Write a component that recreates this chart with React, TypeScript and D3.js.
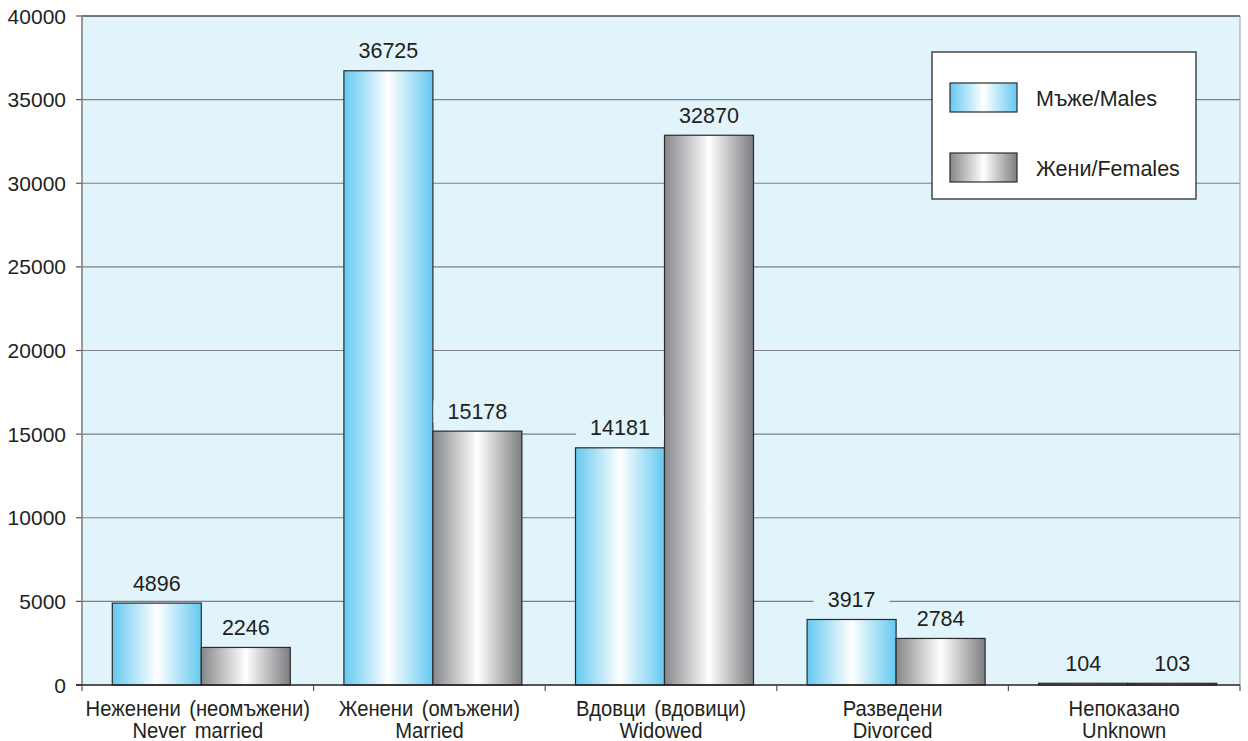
import React from "react";
import * as d3 from "d3";

const categoriesBg = ["Неженени (неомъжени)", "Женени (омъжени)", "Вдовци (вдовици)", "Разведени", "Непоказано"];
const categoriesEn = ["Never married", "Married", "Widowed", "Divorced", "Unknown"];
const males = [4896, 36725, 14181, 3917, 104];
const females = [2246, 15178, 32870, 2784, 103];
const yTicks = [0, 5000, 10000, 15000, 20000, 25000, 30000, 35000, 40000];
const seriesNames = ["Мъже/Males", "Жени/Females"];

const W = 1248;
const H = 741;
const left = 82;
const right = 1240;
const top = 16;
const bottom = 685;
const FONT = "'Liberation Sans', Arial, sans-serif";
const BG = "#e1f3fb";

export default function App() {
  const x = d3.scaleBand<number>().domain(d3.range(categoriesBg.length)).range([left, right]).paddingInner(0).paddingOuter(0);
  const y = d3.scaleLinear().domain([0, 40000]).range([bottom, top]);
  const bw = 89;
  const shift = 3.5;
  const series = [
    { vals: males, grad: "url(#gMale)" },
    { vals: females, grad: "url(#gFemale)" },
  ];
  const bounds = d3.range(categoriesBg.length + 1).map((i) => left + i * x.bandwidth());

  return (
    <svg width={W} height={H} style={{ position: "absolute", left: 0, top: 0, background: "#fff" }} fontFamily={FONT}>
      <defs>
        <linearGradient id="gMale" x1="0" x2="1" y1="0" y2="0">
          <stop offset="0%" stopColor="#64c9f0" />
          <stop offset="50%" stopColor="#ffffff" />
          <stop offset="100%" stopColor="#64c9f0" />
        </linearGradient>
        <linearGradient id="gFemale" x1="0" x2="1" y1="0" y2="0">
          <stop offset="0%" stopColor="#86878a" />
          <stop offset="50%" stopColor="#ffffff" />
          <stop offset="100%" stopColor="#7c7d80" />
        </linearGradient>
      </defs>
      <rect x={left} y={top} width={right - left} height={bottom - top} fill={BG} />
      {yTicks.map((t) => (
        <g key={t}>
          {t > 0 && <line x1={left} x2={right} y1={y(t)} y2={y(t)} stroke="#7d7f82" strokeWidth={1.2} />}
          <line x1={left - 6} x2={left} y1={y(t)} y2={y(t)} stroke="#555" strokeWidth={1.2} />
          <text x={66} y={y(t)} dy="0.36em" textAnchor="end" fontSize={21} fill="#231f20">
            {t}
          </text>
        </g>
      ))}
      <line x1={right} x2={right} y1={top} y2={bottom} stroke="#9aa0a4" strokeWidth={1} />
      <line x1={left} x2={right} y1={top} y2={top} stroke="#333" strokeWidth={1.2} />
      {series.map((s, si) =>
        s.vals.map((v, i) => {
          const cx = x(i)! + x.bandwidth() / 2 + shift;
          const bx = si === 0 ? cx - bw : cx;
          return (
            <rect key={`${si}-${i}`} x={bx} y={y(v)} width={bw} height={bottom - y(v)} fill={s.grad} stroke="#2b2b2b" strokeWidth={1.2} />
          );
        })
      )}
      {series.map((s, si) =>
        s.vals.map((v, i) => {
          const cx = x(i)! + x.bandwidth() / 2 + shift;
          const lx = si === 0 ? cx - bw / 2 : cx + bw / 2;
          const base = Math.min(y(v) - 12.5, 680);
          const label = String(v);
          const tw = label.length * 12 + 28;
          return (
            <g key={`l${si}-${i}`}>
              <rect x={lx - tw / 2} y={base - 18} width={tw} height={22} fill={BG} />
              <text x={lx} y={base} textAnchor="middle" fontSize={21.5} fill="#231f20">
                {label}
              </text>
            </g>
          );
        })
      )}
      <line x1={left} x2={left} y1={top} y2={bottom + 1} stroke="#7d7f82" strokeWidth={1.6} />
      <line x1={left - 6} x2={right} y1={bottom} y2={bottom} stroke="#231f20" strokeWidth={1.4} />
      {bounds.map((b, i) => (
        <line key={i} x1={b} x2={b} y1={bottom} y2={bottom + 6} stroke="#555" strokeWidth={1.2} />
      ))}
      {categoriesBg.map((c, i) => {
        const cx = x(i)! + x.bandwidth() / 2;
        return (
          <g key={c} transform={`translate(${cx},0) scale(0.94,1)`}>
            <text x={0} y={716} textAnchor="middle" fontSize={21.5} fill="#231f20" wordSpacing={3}>
              {c}
            </text>
            <text x={0} y={738} textAnchor="middle" fontSize={21.5} fill="#231f20" wordSpacing={3}>
              {categoriesEn[i]}
            </text>
          </g>
        );
      })}
      <rect x={932} y={52} width={264} height={147} fill="#ffffff" stroke="#2b2b2b" strokeWidth={1.3} />
      {seriesNames.map((n, i) => (
        <g key={n}>
          <rect x={950} y={83 + i * 70} width={67} height={29} fill={series[i].grad} stroke="#2b2b2b" strokeWidth={1.2} />
          <text x={1036} y={98 + i * 70} dy="0.36em" fontSize={21.5} fill="#231f20">
            {n}
          </text>
        </g>
      ))}
    </svg>
  );
}
